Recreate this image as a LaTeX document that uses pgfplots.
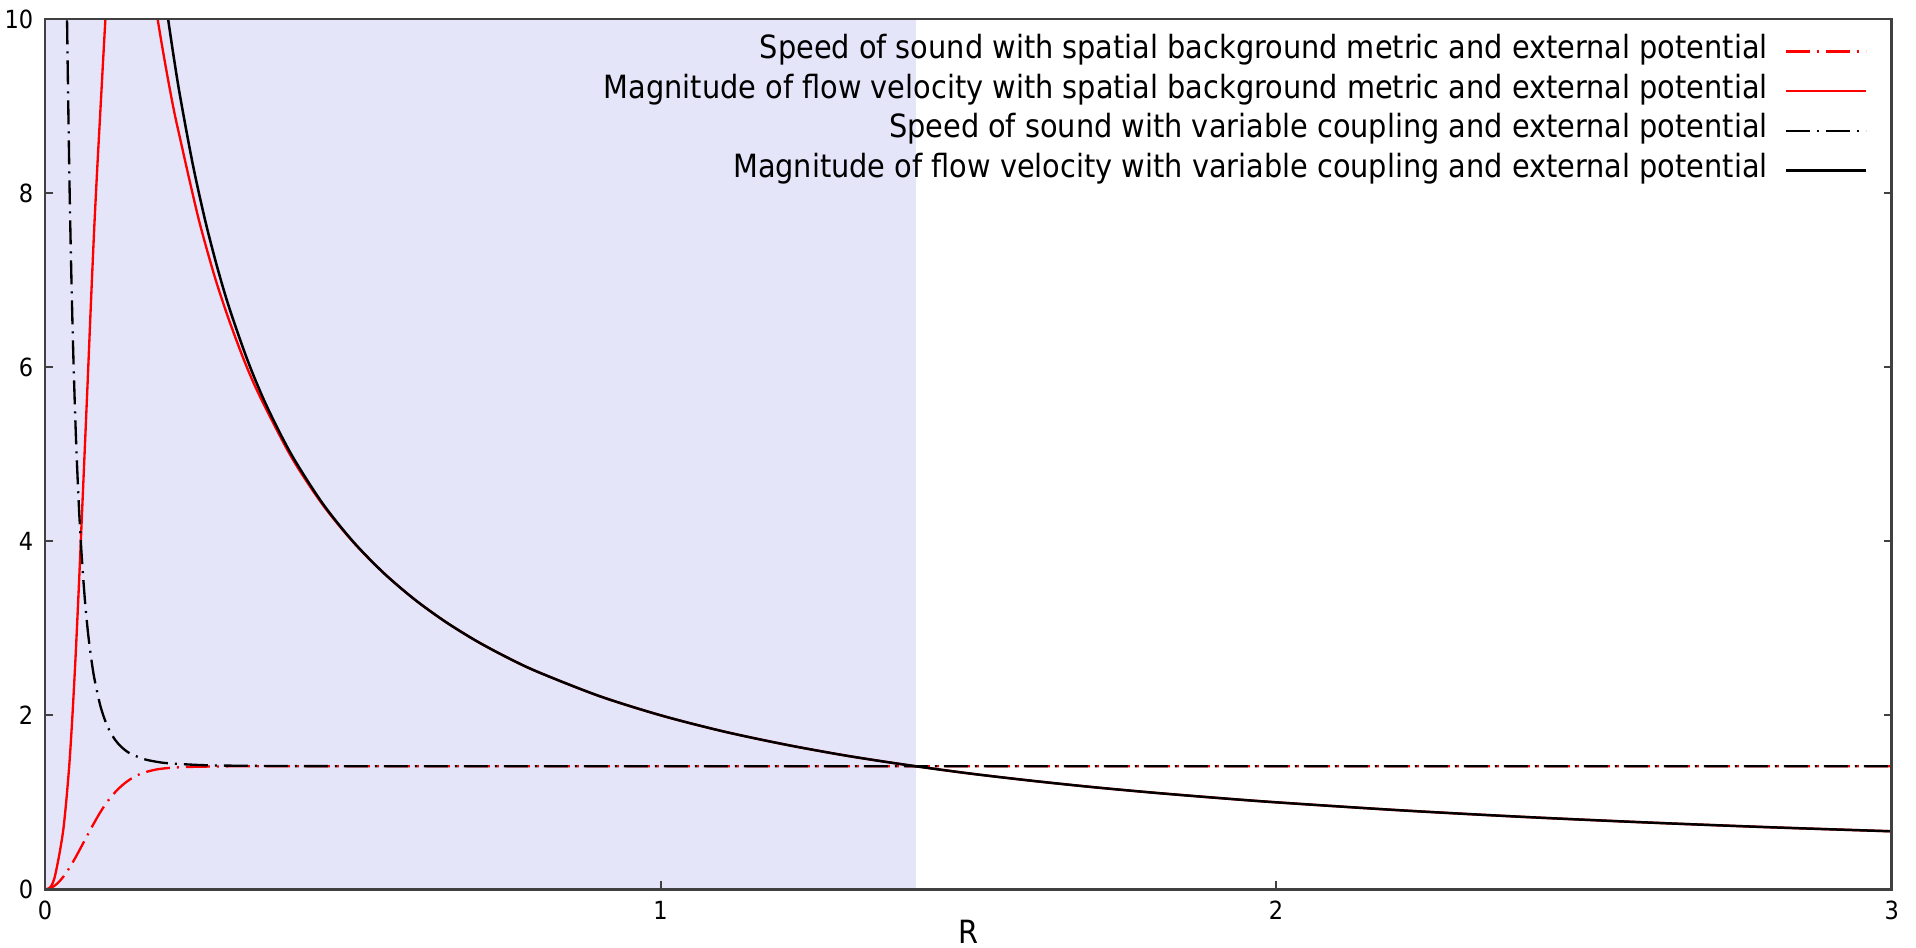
\documentclass[border=0pt]{standalone}
\usepackage{fontspec}
\setmainfont{DejaVu Sans Condensed}
\usepackage{pgfplots}
\pgfplotsset{compat=1.18}
\definecolor{shade}{RGB}{229,229,250}
\definecolor{axgray}{RGB}{64,64,64}
\begin{document}
\begin{tikzpicture}
\begin{axis}[
  scale only axis, width=554pt, height=261.1pt,
  xmin=0, xmax=3, ymin=0, ymax=10,
  xtick={0,1,2,3}, ytick={0,2,4,6,8,10},
  xtick pos=left,
  major tick length=2.4pt,
  tick style={axgray, line width=0.6pt},
  axis line style={axgray, line width=0.8pt},
  axis on top,
  ticklabel style={font=\fontsize{7.5}{9}\selectfont},
  /pgf/number format/assume math mode=true,
  xlabel={R},
  xlabel style={font=\fontsize{9.6}{11}\selectfont, at={(axis description cs:0.5,0)}, anchor=north, inner sep=0pt, yshift=-9pt},
  legend plot pos=right, legend cell align=right,
  legend style={at={(1,1)}, anchor=north east, xshift=-7.2pt, yshift=-3.6pt, draw=none, fill=none,
    font=\fontsize{9.6}{11.9}\selectfont, column sep=5pt, row sep=0pt, inner sep=0pt,
    nodes={inner sep=0pt, text height=8.1pt, text depth=3.8pt}},
  legend image code/.code={\draw[#1] (0pt,0pt) -- (24pt,0pt);},
  every axis plot/.append style={line join=round},
]
\addplot[fill=shade, draw=none, forget plot] coordinates {(0,0) (0,10) (1.4142,10) (1.4142,0)} -- cycle;

% speed of sound, spatial background metric
\addplot[red, line width=0.7pt, dash pattern=on 7.2pt off 2.1pt on 0.6pt off 2.1pt, smooth] coordinates {
(0,0) (0.01,0.017) (0.02,0.067) (0.03,0.147) (0.04,0.251) (0.05,0.372) (0.06,0.503)
(0.07,0.636) (0.08,0.766) (0.09,0.888) (0.10,0.995) (0.11,1.085) (0.12,1.160)
(0.13,1.222) (0.14,1.272) (0.15,1.311) (0.16,1.340) (0.18,1.376) (0.20,1.394)
(0.22,1.403) (0.25,1.409) (0.30,1.4135) (0.35,1.4142) (0.5,1.4142) (1,1.4142) (2,1.4142) (3,1.4142)};
\addlegendentry{Speed of sound with spatial background metric and external potential}

% flow velocity, spatial background metric
\addplot[red, line width=0.7pt, smooth] coordinates {
(0,0) (0.005,0.005) (0.01,0.037) (0.015,0.12) (0.02,0.28) (0.025,0.47) (0.03,0.70)
(0.035,1.05) (0.04,1.48) (0.045,2.05) (0.05,2.72) (0.055,3.48) (0.06,4.30) (0.065,5.12)
(0.07,5.95) (0.075,6.80) (0.08,7.60) (0.085,8.30) (0.09,8.95) (0.095,9.60) (0.10,10.2)
(0.11,11.1) (0.12,11.5) (0.13,11.7) (0.14,11.57) (0.15,11.33) (0.16,11.0) (0.17,10.6)
(0.18,10.13) (0.19,9.70) (0.20,9.30) (0.21,8.93) (0.22,8.61) (0.235,8.14) (0.25,7.69)
(0.265,7.30) (0.28,6.94) (0.30,6.52) (0.325,6.05) (0.35,5.65) (0.40,4.97) (0.45,4.43)
(0.50,3.995) (0.55,3.636) (0.60,3.333) (0.65,3.077) (0.70,2.857) (0.75,2.667) (0.80,2.5)
(0.90,2.222) (1.0,2.0) (1.1,1.818) (1.2,1.667) (1.3,1.538) (1.4,1.429) (1.5,1.333)
(1.6,1.25) (1.7,1.176) (1.8,1.111) (1.9,1.053) (2.0,1.0) (2.2,0.909) (2.4,0.833)
(2.6,0.769) (2.8,0.714) (3.0,0.667)};
\addlegendentry{Magnitude of flow velocity with spatial background metric and external potential}

% speed of sound, variable coupling
\addplot[black, line width=0.7pt, dash pattern=on 7.2pt off 2.1pt on 0.6pt off 2.1pt, smooth] coordinates {
(0.03,14.12) (0.032,12.43) (0.035,10.42) (0.04,8.03) (0.045,6.40) (0.05,5.25) (0.055,4.41)
(0.06,3.79) (0.065,3.31) (0.07,2.94) (0.075,2.66) (0.08,2.43) (0.09,2.107) (0.10,1.897)
(0.11,1.759) (0.12,1.665) (0.13,1.600) (0.14,1.555) (0.16,1.498) (0.18,1.467) (0.20,1.449)
(0.25,1.4287) (0.30,1.4212) (0.40,1.4164) (0.50,1.4151) (1,1.4143) (2,1.4142) (3,1.4142)};
\addlegendentry{Speed of sound with variable coupling and external potential}

% flow velocity, variable coupling
\addplot[black, line width=0.75pt, smooth] coordinates {
(0.18,11.11) (0.19,10.526) (0.20,10.0) (0.21,9.524) (0.22,9.091) (0.24,8.333) (0.26,7.692)
(0.28,7.143) (0.30,6.667) (0.33,6.061) (0.36,5.556) (0.40,5.0) (0.45,4.444) (0.50,4.0)
(0.55,3.636) (0.60,3.333) (0.65,3.077) (0.70,2.857) (0.75,2.667) (0.80,2.5) (0.90,2.222)
(1.0,2.0) (1.1,1.818) (1.2,1.667) (1.3,1.538) (1.4,1.429) (1.5,1.333) (1.6,1.25)
(1.7,1.176) (1.8,1.111) (1.9,1.053) (2.0,1.0) (2.2,0.909) (2.4,0.833) (2.6,0.769)
(2.8,0.714) (3.0,0.667)};
\addlegendentry{Magnitude of flow velocity with variable coupling and external potential}
\end{axis}
\pgfresetboundingbox
\path[use as bounding box] ([shift={(-13.5pt,-17.3pt)}]current axis.south west) rectangle ([shift={(7.3pt,5.7pt)}]current axis.north east);
\end{tikzpicture}
\end{document}
